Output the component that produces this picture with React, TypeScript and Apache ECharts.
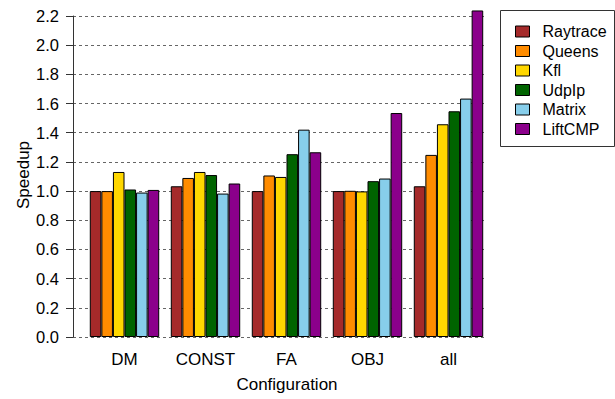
import React, { useEffect, useRef } from "react";
import * as echarts from "echarts";

const categories = ["DM", "CONST", "FA", "OBJ", "all"];
const seriesNames = ["Raytrace", "Queens", "Kfl", "UdpIp", "Matrix", "LiftCMP"];
const raytrace = [1.0, 1.033, 1.0, 1.0, 1.033];
const queens = [1.0, 1.09, 1.107, 1.002, 1.248];
const kfl = [1.131, 1.131, 1.097, 0.998, 1.458];
const udpip = [1.011, 1.11, 1.253, 1.068, 1.547];
const matrix = [0.99, 0.983, 1.421, 1.086, 1.634];
const liftcmp = [1.008, 1.052, 1.266, 1.535, 2.238];
const seriesValues = [raytrace, queens, kfl, udpip, matrix, liftcmp];
const colors = ["#A52A2A", "#FF8C00", "#FFD700", "#006400", "#87CEEB", "#8B008B"];

const FONT = "Liberation Sans, Arial, Helvetica, sans-serif";

export default function App() {
  const ref = useRef<HTMLDivElement>(null);
  useEffect(() => {
    if (!ref.current) return;
    const chart = echarts.init(ref.current, undefined, { renderer: "svg" });
    chart.setOption({
      animation: false,
      textStyle: { fontFamily: FONT },
      grid: [
        { left: 73, right: 130, top: 16, bottom: 62 },
        { left: 84, right: 126, top: 16, bottom: 62 },
      ],
      xAxis: [
        { type: "value", gridIndex: 0, show: false, min: 0, max: 1 },
        {
          type: "category",
          gridIndex: 1,
          data: categories,
          axisLine: { show: false },
          axisTick: { show: false },
          axisLabel: { color: "#000", fontSize: 17, margin: 14, fontFamily: FONT },
        },
      ],
      yAxis: [
        {
          type: "value",
          gridIndex: 0,
          min: 0,
          max: 2.2,
          interval: 0.2,
          axisLine: { show: true, lineStyle: { color: "#333", width: 1 } },
          axisTick: { show: true, length: 7, lineStyle: { color: "#333" } },
          axisLabel: {
            color: "#000",
            fontSize: 16.5,
            margin: 14,
            fontFamily: FONT,
            formatter: (v: number) => v.toFixed(1),
          },
          splitLine: { show: true, lineStyle: { color: "#666", type: [3, 3], width: 1 } },
        },
        { type: "value", gridIndex: 1, min: 0, max: 2.2, show: false },
      ],
      legend: {
        orient: "vertical",
        left: 515,
        top: 23.5,
        padding: 0,
        itemWidth: 14,
        itemHeight: 11,
        itemGap: 3.5,
        icon: "rect",
        itemStyle: { borderColor: "#000", borderWidth: 1 },
        textStyle: { fontSize: 16, color: "#000", fontFamily: FONT, padding: [0, 0, 0, 8] },
        data: seriesNames,
      },
      graphic: [
        {
          type: "rect",
          shape: { x: 500.5, y: 10.5, width: 114, height: 136 },
          style: { fill: "none", stroke: "#333", lineWidth: 1 },
        },
        {
          type: "text",
          x: 23,
          y: 175,
          rotation: Math.PI / 2,
          style: { text: "Speedup", fontSize: 17, fill: "#000", fontFamily: FONT, align: "center", verticalAlign: "middle" },
        },
        {
          type: "text",
          x: 287,
          y: 384,
          style: { text: "Configuration", fontSize: 17, fill: "#000", fontFamily: FONT, align: "center", verticalAlign: "middle" },
        },
      ],
      series: seriesNames.map((name, i) => ({
        name,
        type: "bar",
        xAxisIndex: 1,
        yAxisIndex: 1,
        data: seriesValues[i],
        barGap: "0%",
        barCategoryGap: "14.3%",
        clip: false,
        itemStyle: { color: colors[i], borderColor: "#000", borderWidth: 1 },
      })),
    });
    return () => chart.dispose();
  }, []);
  return <div ref={ref} style={{ width: 615, height: 399, position: "absolute", left: 0, top: 0 }} />;
}
